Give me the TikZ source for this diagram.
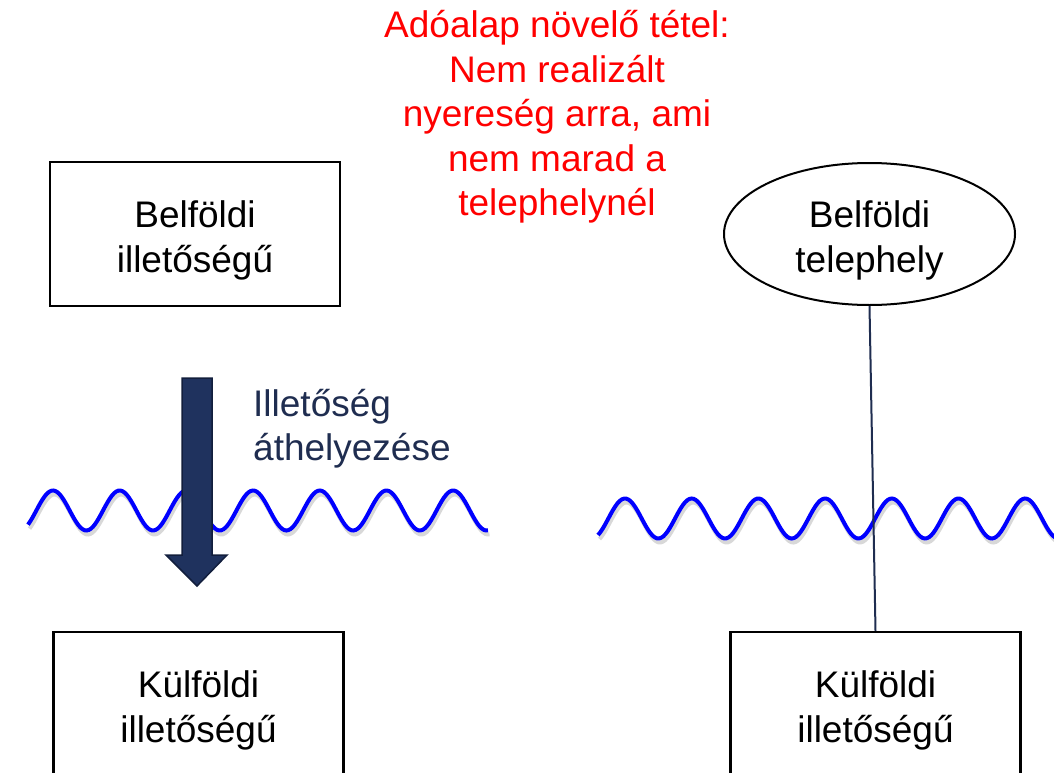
\documentclass[tikz,border=0pt]{standalone}
\usepackage{fontspec}
\setmainfont{Liberation Sans}
\usepackage{tikz}
\usepackage{xcolor}
\usetikzlibrary{shapes.geometric}

\definecolor{navy}{RGB}{31,45,80}
\definecolor{arrowfill}{RGB}{31,50,94}
\definecolor{arrowedge}{RGB}{18,30,60}

\begin{document}
\begin{tikzpicture}[x=1pt, y=-1pt,
  big/.style = {font={\fontsize{37}{44.5}\selectfont}, align=center, inner sep=0pt},
  doboz/.style = {big, draw=black, line width=2.5pt, minimum width=290pt, minimum height=144pt, text height=80pt, text depth=4pt},
  wave/.style = {blue, line width=4pt},
  waveshadow/.style = {black!30, line width=4pt, opacity=0.5}]
  \useasboundingbox (0,0) rectangle (1054,773);
  % waves
  \foreach \xa/\xb/\ym/\xp in {28/488/510.5/53, 598/1075/518.5/625} {
    \draw [waveshadow, shift={(1.5,4)}] plot[domain=\xa:\xb, samples=220, smooth] (\x, {\ym-20*cos(5.3973*(\x-\xp))});
    \draw [wave] plot[domain=\xa:\xb, samples=220, smooth] (\x, {\ym-20*cos(5.3973*(\x-\xp))});
  }
  \node [doboz] (belfoldi) at (195,234) {Belföldi\\illetőségű};
  \node [doboz] (kulfoldiA) at (198.5,704) {Külföldi\\illetőségű};
  \node [doboz] (kulfoldiB) at (875.5,704) {Külföldi\\illetőségű};
  \node [big, draw=black, line width=2pt, ellipse, minimum width=291pt, minimum height=142pt, text height=80pt, text depth=4pt] (telephely) at (869.5,234) {Belföldi\\telephely};
  \node [big, red, text depth=0pt, anchor=south] (tetel) at (557,216) {Adóalap növelő tétel:\\Nem realizált\\nyereség arra, ami\\nem marad a\\telephelynél};
  \node [big, navy, align=left, text depth=0pt, anchor=south west] (athelyezes) at (253,461) {Illetőség\\áthelyezése};
  % arrow
  \draw [arrowedge, fill=arrowfill, line width=1.5pt, line join=miter]
    (182,378) -- (212,378) -- (212,555) -- (227,555) -- (197,586) -- (166,555) -- (182,555) -- cycle;
  \draw [navy, line width=2pt] (telephely.south) -- (kulfoldiB.north);
\end{tikzpicture}
\end{document}
